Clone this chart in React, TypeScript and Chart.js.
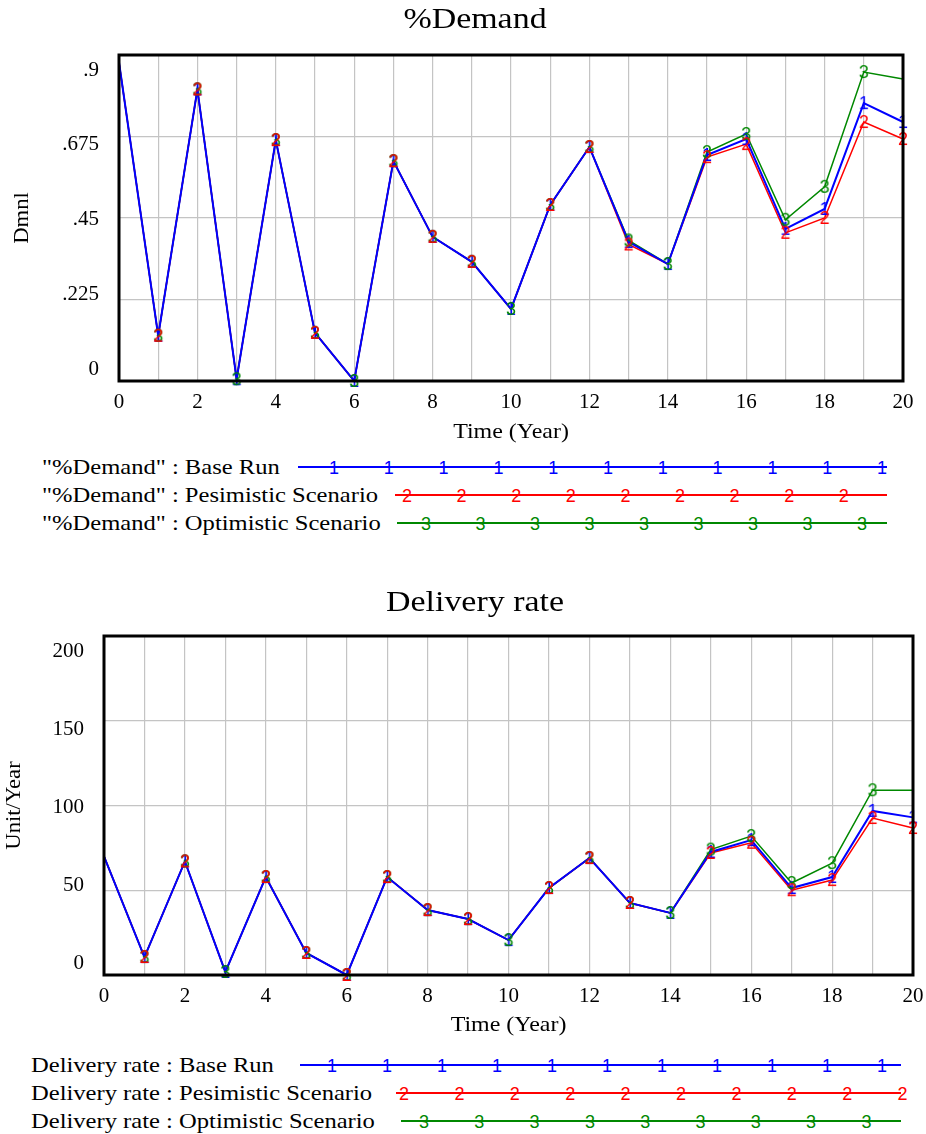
import React, { useEffect, useRef } from 'react';
import { Chart, registerables } from 'chart.js';

Chart.register(...registerables);

// ---------- data ----------
const years = [0, 1, 2, 3, 4, 5, 6, 7, 8, 9, 10, 11, 12, 13, 14, 15, 16, 17, 18, 19, 20];

const demandBase = [0.88, 0.125, 0.805, 0.005, 0.665, 0.133, 0.0, 0.607, 0.398, 0.329, 0.199, 0.486, 0.646, 0.384, 0.323, 0.624, 0.668, 0.42, 0.475, 0.767, 0.715];
const demandPes = [0.88, 0.125, 0.805, 0.005, 0.665, 0.133, 0.0, 0.607, 0.398, 0.329, 0.199, 0.486, 0.646, 0.377, 0.323, 0.618, 0.654, 0.409, 0.45, 0.715, 0.668];
const demandOpt = [0.88, 0.125, 0.805, 0.005, 0.665, 0.133, 0.0, 0.607, 0.398, 0.329, 0.199, 0.486, 0.646, 0.388, 0.323, 0.632, 0.682, 0.445, 0.536, 0.853, 0.834];

const deliveryBase = [70, 10.6, 67, 1.8, 57.8, 13, 0, 57.8, 38.3, 33, 20.6, 51.3, 69, 42.5, 36.6, 72.6, 79.6, 51.3, 57.8, 96.8, 93];
const deliveryPes = [70, 10.6, 67, 1.8, 57.8, 13, 0, 57.8, 38.3, 33, 20.6, 51.3, 69, 42.5, 36.6, 72, 78, 50, 56, 92.6, 86.7];
const deliveryOpt = [70, 10.6, 67, 1.8, 57.8, 13, 0, 57.8, 38.3, 33, 20.6, 51.3, 69, 42.5, 36.6, 74, 82, 54.3, 66, 109, 109];

const demandTickValues = [0, 0.225, 0.45, 0.675, 0.9];
const demandTickLabels = ['0', '.225', '.45', '.675', '.9'];
const deliveryTickValues = [0, 50, 100, 150, 200];
const deliveryTickLabels = ['0', '50', '100', '150', '200'];
const xTickValues = [0, 2, 4, 6, 8, 10, 12, 14, 16, 18, 20];
const xTickLabels = ['0', '2', '4', '6', '8', '10', '12', '14', '16', '18', '20'];

const runNames = ['Base Run', 'Pesimistic Scenario', 'Optimistic Scenario'];
const runDigits = ['1', '2', '3'];

// ---------- styles ----------
const BLUE = '#0000ff';
const RED = '#ff0000';
const GREEN = '#008800';
const GRID = '#c4c4c4';
const SERIF = '"Liberation Serif", "Times New Roman", serif';
const SANS = '"Liberation Sans", Arial, sans-serif';
const STRETCH = 1.17;

function digitImage(d: string, color: string) {
  const c = document.createElement('canvas');
  c.width = 16;
  c.height = 20;
  const ctx = c.getContext('2d')!;
  ctx.font = `18px ${SANS}`;
  ctx.fillStyle = color;
  ctx.textAlign = 'center';
  ctx.textBaseline = 'middle';
  ctx.fillText(d, 8, 11);
  return c;
}

type ChartSpec = {
  title: string;
  yTitle: string;
  yMax: number;
  yStep: number;
  tickValues: number[];
  tickLabels: string[];
  series: number[][];
  hiddenRedMarkers: number[];
  padding: { left: number; right: number; top: number; bottom: number };
  titleY: number;
  yTitleX: number;
  xTitleOffset: number;
};

function stretchText(ctx: CanvasRenderingContext2D, text: string, x: number, y: number, sx: number) {
  ctx.save();
  ctx.translate(x, y);
  ctx.scale(sx, 1);
  ctx.fillText(text, 0, 0);
  ctx.restore();
}

function buildChart(canvas: HTMLCanvasElement, spec: ChartSpec) {
  const colors = [BLUE, RED, GREEN];
  const widths = [2, 1.5, 1.5];
  const toXY = (vals: number[]) => years.map((t, i) => ({ x: t, y: vals[i] }));
  const lineSets = spec.series.map((vals, i) => ({
    data: toXY(vals),
    borderColor: colors[i],
    borderWidth: widths[i],
    pointRadius: 0,
    tension: 0,
    fill: false,
    clip: false as any,
    order: i === 0 ? 3 : i === 1 ? 4 : 5,
  }));
  const markerSets = spec.series.map((vals, i) => ({
    data: toXY(vals),
    showLine: false,
    pointStyle: digitImage(runDigits[i], colors[i]) as any,
    pointRadius: years.map((_, k) => {
      if (k === 0) return 0;
      if (i === 2 && k === years.length - 1) return 0;
      if (i === 1 && spec.hiddenRedMarkers.includes(k)) return 0;
      return 8;
    }),
    borderColor: colors[i],
    backgroundColor: colors[i],
    clip: false as any,
    order: i === 1 ? 0 : i === 2 ? 1 : 2,
  }));

  const textPlugin = {
    id: 'vensimText',
    afterDraw(chart: any) {
      const ctx = chart.ctx as CanvasRenderingContext2D;
      const a = chart.chartArea;
      const xs = chart.scales.x;
      ctx.save();
      // frame
      ctx.strokeStyle = '#000';
      ctx.lineWidth = 3;
      ctx.strokeRect(a.left, a.top, a.right - a.left, a.bottom - a.top);
      ctx.fillStyle = '#000';
      // y tick labels (end labels kept inside the frame, like Vensim)
      ctx.font = `21px ${SERIF}`;
      ctx.textAlign = 'right';
      ctx.textBaseline = 'middle';
      const yTop = a.top + 15;
      const yBot = a.bottom - 12;
      spec.tickValues.forEach((v, i) => {
        const f = v / spec.yMax;
        const y = yBot - f * (yBot - yTop);
        ctx.fillText(spec.tickLabels[i], a.left - 20, y);
      });
      // x tick labels
      ctx.textAlign = 'center';
      xTickValues.forEach((v, i) => {
        ctx.fillText(xTickLabels[i], xs.getPixelForValue(v), a.bottom + 21);
      });
      // x title
      stretchText(ctx, 'Time (Year)', (a.left + a.right) / 2, a.bottom + spec.xTitleOffset, 1.14);
      // title
      ctx.font = `29px ${SERIF}`;
      stretchText(ctx, spec.title, 475, spec.titleY, STRETCH);
      // y title
      ctx.font = `21px ${SERIF}`;
      ctx.translate(spec.yTitleX, (a.top + a.bottom) / 2);
      ctx.rotate(-Math.PI / 2);
      ctx.scale(1.08, 1);
      ctx.fillText(spec.yTitle, 0, 0);
      ctx.restore();
    },
  };

  return new Chart(canvas, {
    type: 'line',
    data: { datasets: [...markerSets, ...lineSets] as any },
    options: {
      responsive: false,
      maintainAspectRatio: false,
      animation: false,
      events: [],
      layout: { padding: spec.padding },
      plugins: { legend: { display: false }, tooltip: { enabled: false }, title: { display: false } },
      scales: {
        x: {
          type: 'linear',
          min: 0,
          max: 20,
          ticks: { display: false, stepSize: 1 },
          grid: { color: GRID, lineWidth: 1.2, drawTicks: false },
          border: { display: false },
          afterFit: (s: any) => { s.height = 0; },
        },
        y: {
          type: 'linear',
          min: 0,
          max: spec.yMax,
          ticks: { display: false, stepSize: spec.yStep },
          grid: { color: GRID, lineWidth: 1.2, drawTicks: false },
          border: { display: false },
          afterFit: (s: any) => { s.width = 0; },
        },
      },
    } as any,
    plugins: [textPlugin],
  });
}

function Legend({ top, textLeft, prefix, rows }: { top: number; textLeft: number; prefix: string; rows: { start: number; end: number; first: number; step: number; count: number }[] }) {
  const colors = [BLUE, RED, GREEN];
  return (
    <>
      {rows.map((r, i) => {
        const y = top + i * 28;
        const digits = [] as React.ReactNode[];
        for (let k = 0; k < r.count; k++) {
          digits.push(
            <span
              key={k}
              style={{
                position: 'absolute',
                left: r.first + k * r.step - 10,
                top: y - 10,
                width: 20,
                textAlign: 'center',
                font: `18px ${SANS}`,
                lineHeight: '22px',
                color: colors[i],
              }}
            >
              {runDigits[i]}
            </span>
          );
        }
        return (
          <React.Fragment key={i}>
            <div
              style={{
                position: 'absolute',
                left: textLeft,
                top: y - 13,
                font: `21px ${SERIF}`,
                lineHeight: '26px',
                whiteSpace: 'pre',
                color: '#000',
                transform: `scaleX(${STRETCH})`,
                transformOrigin: 'left center',
              }}
            >
              {`${prefix} : ${runNames[i]}`}
            </div>
            <div
              style={{
                position: 'absolute',
                left: r.start,
                top: y - 1,
                width: r.end - r.start,
                height: 2,
                background: colors[i],
              }}
            />
            {digits}
          </React.Fragment>
        );
      })}
    </>
  );
}

export default function App() {
  const c1 = useRef<HTMLCanvasElement>(null);
  const c2 = useRef<HTMLCanvasElement>(null);

  useEffect(() => {
    document.body.style.margin = '0';
    const ch1 = buildChart(c1.current!, {
      title: '%Demand',
      yTitle: 'Dmnl',
      yMax: 0.9,
      yStep: 0.225,
      tickValues: demandTickValues,
      tickLabels: demandTickLabels,
      series: [demandBase, demandPes, demandOpt],
      hiddenRedMarkers: [3, 6, 10, 14],
      padding: { left: 119, right: 926 - 903, top: 55, bottom: 450 - 381 },
      titleY: 20,
      yTitleX: 22,
      xTitleOffset: 51,
    });
    const ch2 = buildChart(c2.current!, {
      title: 'Delivery rate',
      yTitle: 'Unit/Year',
      yMax: 200,
      yStep: 50,
      tickValues: deliveryTickValues,
      tickLabels: deliveryTickLabels,
      series: [deliveryBase, deliveryPes, deliveryOpt],
      hiddenRedMarkers: [3, 10, 14],
      padding: { left: 104, right: 926 - 913, top: 76, bottom: 490 - 415 },
      titleY: 603 - 560,
      yTitleX: 14,
      xTitleOffset: 50,
    });
    return () => {
      ch1.destroy();
      ch2.destroy();
    };
  }, []);

  return (
    <div style={{ position: 'relative', width: 926, height: 1134, background: '#fff', overflow: 'hidden' }}>
      <canvas ref={c1} width={926} height={450} style={{ position: 'absolute', left: 0, top: 0 }} />
      <canvas ref={c2} width={926} height={490} style={{ position: 'absolute', left: 0, top: 560 }} />
      <Legend
        top={467}
        textLeft={42}
        prefix={'"%Demand"'}
        rows={[
          { start: 298, end: 887, first: 334, step: 54.8, count: 11 },
          { start: 395, end: 887, first: 407, step: 54.6, count: 9 },
          { start: 397, end: 887, first: 426, step: 54.5, count: 9 },
        ]}
      />
      <Legend
        top={1065}
        textLeft={31}
        prefix={'Delivery rate'}
        rows={[
          { start: 300, end: 901, first: 332, step: 55, count: 11 },
          { start: 396, end: 901, first: 404, step: 55.4, count: 10 },
          { start: 401, end: 901, first: 424, step: 55.3, count: 9 },
        ]}
      />
    </div>
  );
}
